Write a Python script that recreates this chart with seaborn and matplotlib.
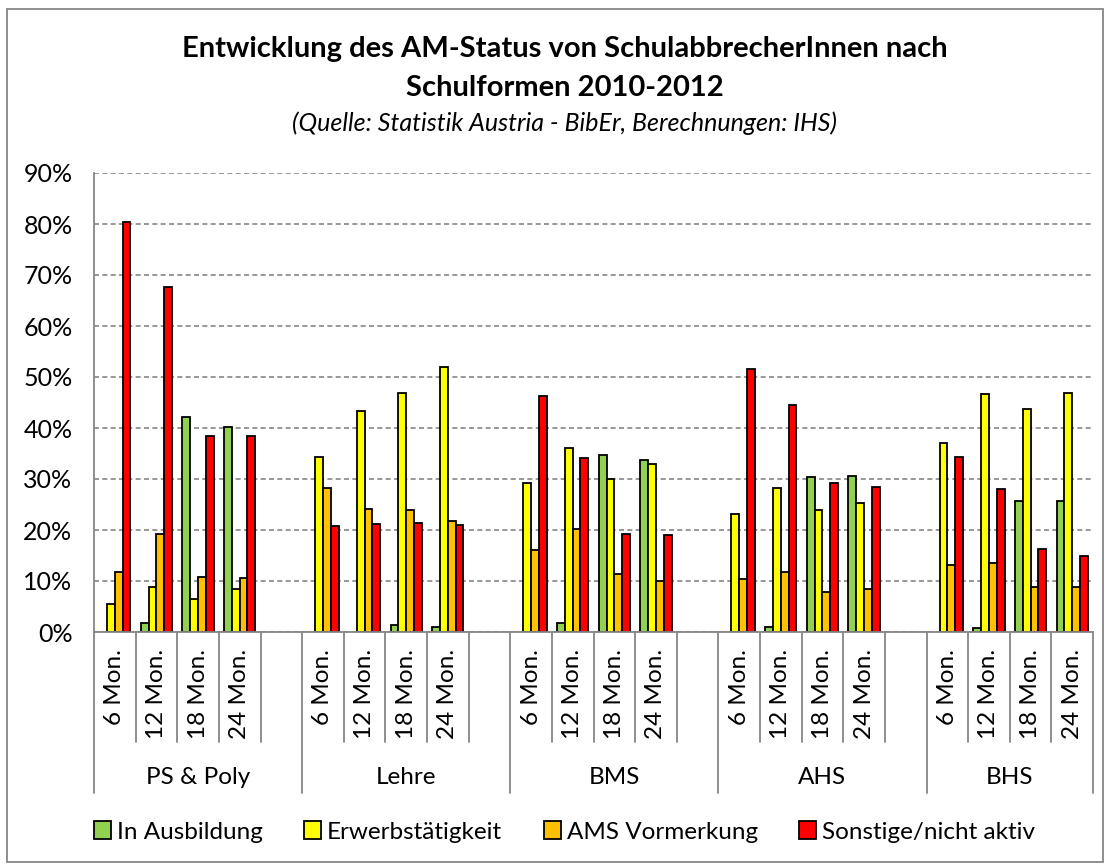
import numpy as np
import pandas as pd
import matplotlib
matplotlib.use("Agg")
import matplotlib.pyplot as plt
from matplotlib.patches import Patch, Rectangle
from matplotlib.ticker import FuncFormatter
import seaborn as sns

# categories
schulformen = ["PS & Poly", "Lehre", "BMS", "AHS", "BHS"]
zeitpunkte = ["6 Mon.", "12 Mon.", "18 Mon.", "24 Mon."]
status = ["In Ausbildung", "Erwerbstätigkeit", "AMS Vormerkung", "Sonstige/nicht aktiv"]

# values in %, order: PS & Poly (6,12,18,24), Lehre, BMS, AHS, BHS
in_ausbildung = [None, 1.8, 42.2, 40.1,
                 None, None, 1.4, 1.0,
                 None, 1.8, 34.7, 33.7,
                 None, 1.0, 30.3, 30.6,
                 None, 0.8, 25.6, 25.6]
erwerbstaetigkeit = [5.4, 8.8, 6.4, 8.4,
                     34.3, 43.3, 46.9, 52.0,
                     29.3, 36.1, 30.0, 32.9,
                     23.1, 28.3, 24.0, 25.2,
                     37.1, 46.7, 43.7, 46.9]
ams_vormerkung = [11.8, 19.3, 10.8, 10.5,
                  28.3, 24.1, 23.9, 21.7,
                  16.1, 20.2, 11.3, 10.0,
                  10.4, 11.7, 7.9, 8.5,
                  13.2, 13.5, 8.8, 8.8]
sonstige = [80.4, 67.6, 38.4, 38.4,
            20.8, 21.2, 21.4, 21.0,
            46.3, 34.1, 19.2, 19.1,
            51.6, 44.6, 29.3, 28.4,
            34.3, 28.1, 16.3, 14.9]

farben = ["#92D050", "#FFFF00", "#FFC000", "#FF0000"]
grau = "#868686"

# long table
rows = []
for s, vals in zip(status, [in_ausbildung, erwerbstaetigkeit, ams_vormerkung, sonstige]):
    i = 0
    for g in schulformen:
        for z in zeitpunkte:
            rows.append({"slot": g + "|" + z, "status": s, "wert": vals[i]})
            i += 1
df = pd.DataFrame(rows).dropna()

# category order with an empty slot between the school types
order = []
for gi, g in enumerate(schulformen):
    order += [g + "|" + z for z in zeitpunkte]
    if gi < len(schulformen) - 1:
        order.append("leer%d" % gi)

sns.set_style("white")
plt.rcParams["font.family"] = ["Lato", "DejaVu Sans"]
plt.rcParams["text.color"] = "black"

W, H = 1109, 866
fig = plt.figure(figsize=(W / 100, H / 100), dpi=100)
ax = fig.add_axes([94 / W, 1 - 632 / H, (1093 - 94) / W, (632 - 173) / H])

sns.barplot(data=df, x="slot", y="wert", hue="status", order=order,
            hue_order=status, palette=dict(zip(status, farben)), saturation=1,
            width=0.75, edgecolor="black", linewidth=1.3, errorbar=None,
            legend=False, ax=ax)

ax.set_xlim(-0.5, len(order) - 0.5)
ax.set_ylim(0, 90)
ax.set_yticks(np.arange(0, 91, 10))
ax.yaxis.set_major_formatter(FuncFormatter(lambda v, p: "%d%%" % v))
ax.tick_params(axis="y", direction="out", length=6.5, width=1.2, color=grau,
               labelsize=18, labelcolor="black", pad=9)
ax.tick_params(axis="x", length=0, labelbottom=False)
ax.set_xlabel("")
ax.set_ylabel("")
ax.yaxis.grid(True, linestyle=(0, (3, 2)), color=grau, linewidth=1.2)
ax.set_axisbelow(True)
for side in ["top", "right"]:
    ax.spines[side].set_visible(False)
for side in ["left", "bottom"]:
    ax.spines[side].set_color(grau)
    ax.spines[side].set_linewidth(1.3)

# multi-level x axis
tr = ax.get_xaxis_transform()
for i, key in enumerate(order):
    if "|" in key:
        ax.text(i, -0.037, key.split("|")[1], rotation=90, ha="center", va="top",
                fontsize=17.5, transform=tr)
grenzen = []
start = -0.5
for gi, g in enumerate(schulformen):
    n = len(zeitpunkte) + (1 if gi < len(schulformen) - 1 else 0)
    ende = start + n
    ax.text((start + ende) / 2, -0.316, g, ha="center", va="center",
            fontsize=17.5, transform=tr)
    grenzen.append(start)
    start = ende
grenzen.append(start)
for k in range(len(order) + 1):
    x = k - 0.5
    tief = 0.351 if x in grenzen else 0.24
    ax.plot([x, x], [0, -tief], transform=tr, clip_on=False, color=grau, lw=1.3)

# titles
fig.text(0.509, 1 - 49 / H, "Entwicklung des AM-Status von SchulabbrecherInnen nach",
         ha="center", va="center", fontsize=21, fontweight="bold")
fig.text(0.509, 1 - 88 / H, "Schulformen 2010-2012",
         ha="center", va="center", fontsize=21, fontweight="bold")
fig.text(0.509, 1 - 123 / H, "(Quelle: Statistik Austria - BibEr, Berechnungen: IHS)",
         ha="center", va="center", fontsize=18, style="italic")

# legend
handles = [Patch(facecolor=c, edgecolor="black", linewidth=1.3) for c in farben]
fig.legend(handles, status, loc="center", bbox_to_anchor=(0.509, 1 - 832 / H),
           ncol=4, frameon=False, fontsize=17.5, handlelength=0.7, handleheight=0.7,
           handletextpad=0.25, columnspacing=1.7)

# outer frame
fig.patches.append(Rectangle((7 / W, 4 / H), 1096 / W, (857 - 4) / H,
                             transform=fig.transFigure, fill=False,
                             edgecolor=grau, linewidth=1.3))

fig.savefig("out.png", dpi=100)
